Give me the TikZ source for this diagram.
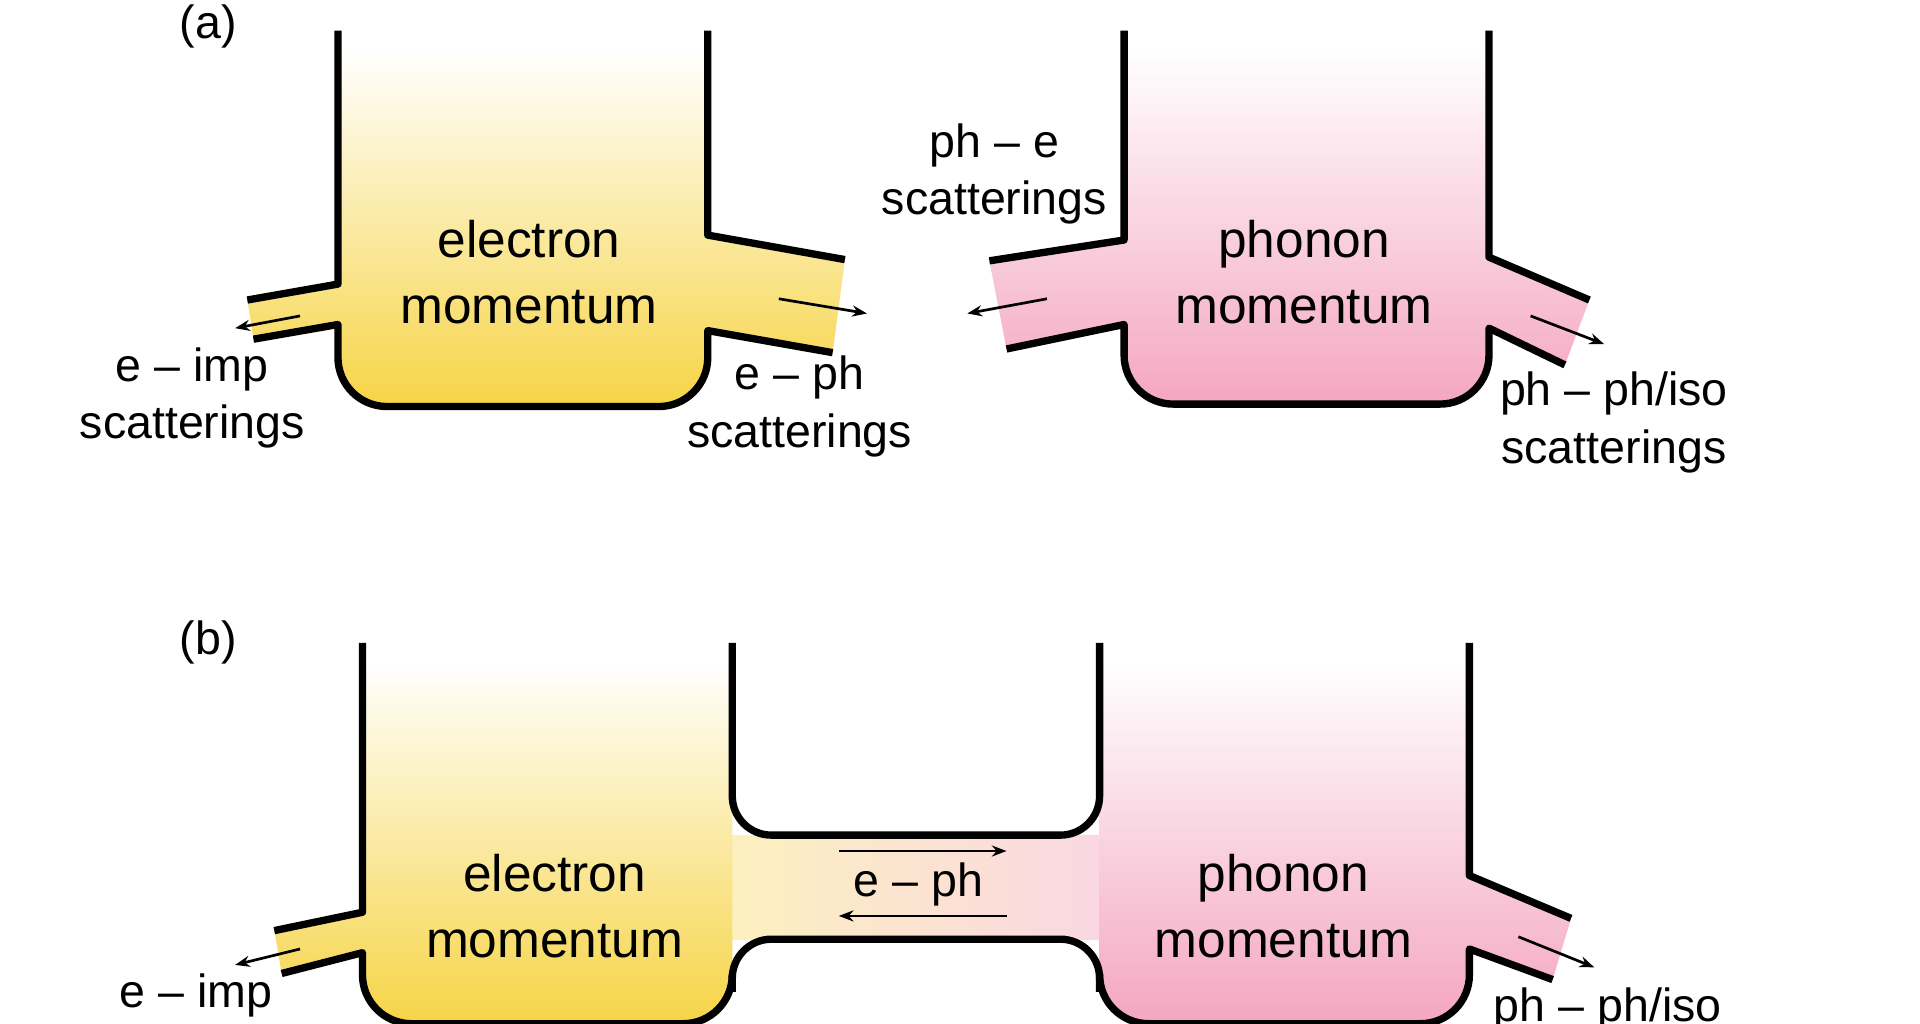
\documentclass[tikz,border=0pt]{standalone}
\usepackage{fontspec}
\setmainfont{Liberation Sans}
\usetikzlibrary{arrows.meta}
\definecolor{ey}{RGB}{246,212,70}
\definecolor{pk}{RGB}{244,166,192}
\begin{document}
\begin{tikzpicture}[x=1pt,y=-1pt,
  wall/.style={line width=6pt,line join=round},
  lbl/.style={font=\fontsize{38}{47}\selectfont,align=center},
  big/.style={font=\fontsize{42}{54}\selectfont,align=center},
  arr/.style={line width=2.2pt,-{Stealth[length=12pt,width=9pt]}}]
\useasboundingbox (0,0) rectangle (1568,836);
\fill[white] (0,0) rectangle (1568,836);
% ---------- (a) electron
\shade[top color=white,bottom color=ey] (276,40) -- (276,232) -- (202,245) -- (207,277) -- (276,265) -- (276,292) arc[start angle=180,end angle=90,radius=40] -- (538,332) arc[start angle=90,end angle=0,radius=40] -- (578,270) -- (680,288) -- (690,212) -- (578,192) -- (578,40) -- cycle;
\draw[wall] (276,25)--(276,232)--(202,245);
\draw[wall] (207,277)--(276,265)--(276,292) arc[start angle=180,end angle=90,radius=40] -- (538,332) arc[start angle=90,end angle=0,radius=40] -- (578,270)--(680,288);
\draw[wall] (690,212)--(578,192)--(578,25);
% ---------- (a) phonon
\shade[top color=white,bottom color=pk] (918,40) -- (918,196) -- (808,213) -- (822,285) -- (918,265) -- (918,290) arc[start angle=180,end angle=90,radius=40] -- (1176,330) arc[start angle=90,end angle=0,radius=40] -- (1216,268) -- (1278,298) -- (1298,245) -- (1216,210) -- (1216,40) -- cycle;
\draw[wall] (918,25)--(918,196)--(808,213);
\draw[wall] (822,285)--(918,265)--(918,290) arc[start angle=180,end angle=90,radius=40] -- (1176,330) arc[start angle=90,end angle=0,radius=40] -- (1216,268)--(1278,298);
\draw[wall] (1298,245)--(1216,210)--(1216,25);
% labels (a)
\node[lbl] (la) at (170,22) {(a)};
\node[big] (em1) at (432,222) {electron\\momentum};
\node[big] (pm1) at (1065,222) {phonon\\momentum};
\node[lbl] (eimp1) at (157,325) {e -- imp\\scatterings};
\node[lbl] (eph1) at (653,332) {e -- ph\\scatterings};
\node[lbl] (phe1) at (812,142) {ph -- e\\scatterings};
\node[lbl] (phph1) at (1318,345) {ph -- ph/iso\\scatterings};
\coordinate (a1s) at (245,258); \coordinate (a1e) at (192,268);
\coordinate (a2s) at (636,244); \coordinate (a2e) at (708,256);
\coordinate (a3s) at (855,244); \coordinate (a3e) at (790,256);
\coordinate (a4s) at (1250,258); \coordinate (a4e) at (1310,281);
\draw[arr] (a1s)--(a1e); \draw[arr] (a2s)--(a2e);
\draw[arr] (a3s)--(a3e); \draw[arr] (a4s)--(a4e);
% ---------- (b)
\shade[left color=ey!35,right color=pk!45] (598,682) rectangle (898,767);
\shade[top color=white,bottom color=ey] (296,540) -- (296,745) -- (224,760) -- (230,795) -- (296,778) -- (296,796) arc[start angle=180,end angle=90,radius=40] -- (558,836) arc[start angle=90,end angle=0,radius=40] -- (598,540) -- cycle;
\shade[top color=white,bottom color=pk] (898,540) -- (898,796) arc[start angle=180,end angle=90,radius=40] -- (1160,836) arc[start angle=90,end angle=0,radius=40] -- (1200,775) -- (1268,800) -- (1283,750) -- (1200,715) -- (1200,540) -- cycle;
\draw[wall] (296,525)--(296,745)--(224,760);
\draw[wall] (230,795)--(296,778)--(296,796) arc[start angle=180,end angle=90,radius=40] -- (558,836) arc[start angle=90,end angle=0,radius=40] -- (598,800);
\draw[wall,rounded corners=32pt] (598,525)--(598,682)--(898,682)--(898,525);
\draw[wall,rounded corners=32pt] (598,810)--(598,767)--(898,767)--(898,810);
\draw[wall] (898,800)--(898,796) arc[start angle=180,end angle=90,radius=40] -- (1160,836) arc[start angle=90,end angle=0,radius=40] -- (1200,775)--(1268,800);
\draw[wall] (1283,750)--(1200,715)--(1200,525);
\node[lbl] (lb) at (170,525) {(b)};
\node[big] (em2) at (453,740) {electron\\momentum};
\node[big] (pm2) at (1048,740) {phonon\\momentum};
\node[lbl] (eph2) at (750,722) {e -- ph};
\node[lbl,anchor=north] (eimp2) at (160,792) {e -- imp\\scatterings};
\node[lbl,anchor=north] (phph2) at (1313,803) {ph -- ph/iso\\scatterings};
\coordinate (b1s) at (685,695); \coordinate (b1e) at (822,695);
\coordinate (b2s) at (822,748); \coordinate (b2e) at (685,748);
\coordinate (b3s) at (245,775); \coordinate (b3e) at (192,788);
\coordinate (b4s) at (1240,765); \coordinate (b4e) at (1302,790);
\draw[arr] (b1s)--(b1e); \draw[arr] (b2s)--(b2e);
\draw[arr] (b3s)--(b3e); \draw[arr] (b4s)--(b4e);
\end{tikzpicture}
\end{document}
